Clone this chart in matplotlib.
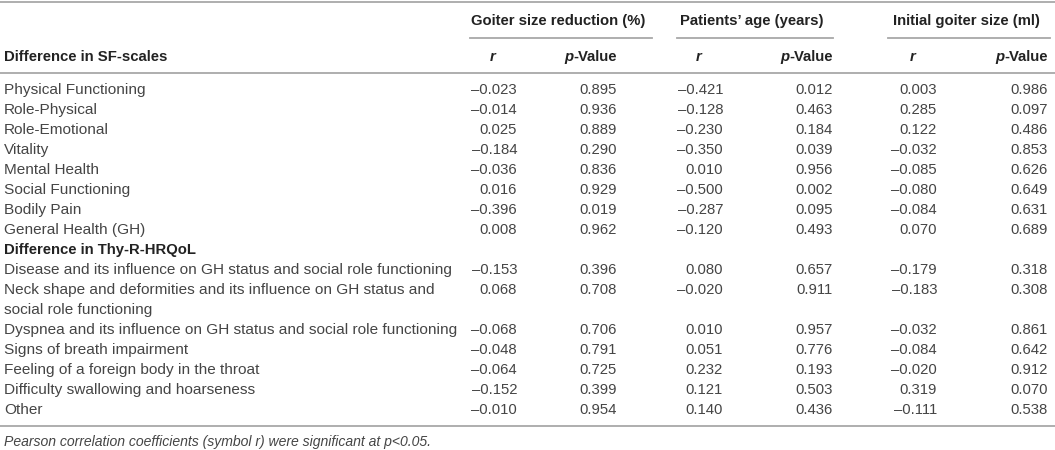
import matplotlib
matplotlib.use("Agg")
import matplotlib.pyplot as plt

# table content
groups = ["Goiter size reduction (%)", "Patients\u2019 age (years)", "Initial goiter size (ml)"]

sf_labels = ["Physical Functioning", "Role-Physical", "Role-Emotional", "Vitality",
             "Mental Health", "Social Functioning", "Bodily Pain", "General Health (GH)"]
sf_goiter_r = [-0.023, -0.014, 0.025, -0.184, -0.036, 0.016, -0.396, 0.008]
sf_goiter_p = [0.895, 0.936, 0.889, 0.290, 0.836, 0.929, 0.019, 0.962]
sf_age_r = [-0.421, -0.128, -0.230, -0.350, 0.010, -0.500, -0.287, -0.120]
sf_age_p = [0.012, 0.463, 0.184, 0.039, 0.956, 0.002, 0.095, 0.493]
sf_init_r = [0.003, 0.285, 0.122, -0.032, -0.085, -0.080, -0.084, 0.070]
sf_init_p = [0.986, 0.097, 0.486, 0.853, 0.626, 0.649, 0.631, 0.689]

thy_labels = ["Disease and its influence on GH status and social role functioning",
              "Neck shape and deformities and its influence on GH status and\nsocial role functioning",
              "Dyspnea and its influence on GH status and social role functioning",
              "Signs of breath impairment",
              "Feeling of a foreign body in the throat",
              "Difficulty swallowing and hoarseness",
              "Other"]
thy_goiter_r = [-0.153, 0.068, -0.068, -0.048, -0.064, -0.152, -0.010]
thy_goiter_p = [0.396, 0.708, 0.706, 0.791, 0.725, 0.399, 0.954]
thy_age_r = [0.080, -0.020, 0.010, 0.051, 0.232, 0.121, 0.140]
thy_age_p = [0.657, 0.911, 0.957, 0.776, 0.193, 0.503, 0.436]
thy_init_r = [-0.179, -0.183, -0.032, -0.084, -0.020, 0.319, -0.111]
thy_init_p = [0.318, 0.308, 0.861, 0.642, 0.912, 0.070, 0.538]

footnote = "Pearson correlation coefficients (symbol r) were significant at p<0.05."

W, H = 1055, 450
fig = plt.figure(figsize=(W / 100, H / 100), dpi=100)
ax = fig.add_axes([0, 0, 1, 1])
ax.set_xlim(0, W)
ax.set_ylim(H, 0)
ax.axis("off")

FONT = "Liberation Sans"
FS = 10.7      # numbers and headers
FS_LAB = 11.1  # row labels
TXT = "#454545"
HDR = "#222222"
LINE = "#a8a8a8"
BL = 5  # baseline offset from row centre


def fmt(v):
    s = "%.3f" % abs(v)
    return ("\u2013" + s) if v < 0 else s


def txt(x, y, s, ha="left", size=FS, **kw):
    return ax.text(x, y + BL, s, ha=ha, va="baseline", fontsize=size,
                   family=FONT, **kw)


# column positions (right edge of numbers)
r_right = [517, 723, 937]
p_right = [617, 833, 1048]
spans = [(470, 652), (677, 833), (888, 1050)]

# rules
ax.plot([0, W], [2, 2], color=LINE, lw=1.3)
ax.plot([0, W], [73, 73], color=LINE, lw=1.3)
ax.plot([0, W], [426, 426], color=LINE, lw=1.3)
for (a, b) in spans:
    ax.plot([a, b], [38, 38], color=LINE, lw=1.3)

# group headers
for g, (a, b) in zip(groups, spans):
    txt((a + b) / 2 - 3, 20, g, ha="center", fontweight="bold", color=HDR)

# sub headers
txt(4, 56, "Difference in SF-scales", fontweight="bold", color=HDR)
fig.canvas.draw()
rend = fig.canvas.get_renderer()
for rr, pr in zip(r_right, p_right):
    txt(rr - 24, 56, "r", ha="center", fontweight="bold", style="italic", color=HDR)
    t = txt(pr, 56, "-Value", ha="right", fontweight="bold", color=HDR)
    bb = t.get_window_extent(rend)
    x0 = ax.transData.inverted().transform((bb.x0, bb.y0))[0]
    txt(x0, 56, "p", ha="right", fontweight="bold", style="italic", color=HDR)

# body rows
y0, dy = 89, 20


def put_row(y, label, vals):
    for j, line in enumerate(label.split("\n")):
        txt(4, y + j * dy, line, size=FS_LAB, color=TXT)
    for k in range(3):
        txt(r_right[k], y, fmt(vals[2 * k]), ha="right", color=TXT)
        txt(p_right[k], y, fmt(vals[2 * k + 1]), ha="right", color=TXT)
    return label.count("\n") + 1


row = 0
for i, lab in enumerate(sf_labels):
    row += put_row(y0 + row * dy, lab, [sf_goiter_r[i], sf_goiter_p[i], sf_age_r[i],
                                        sf_age_p[i], sf_init_r[i], sf_init_p[i]])

txt(4, y0 + row * dy, "Difference in Thy-R-HRQoL", fontweight="bold", color=HDR)
row += 1

for i, lab in enumerate(thy_labels):
    row += put_row(y0 + row * dy, lab, [thy_goiter_r[i], thy_goiter_p[i], thy_age_r[i],
                                        thy_age_p[i], thy_init_r[i], thy_init_p[i]])

txt(4, 441, footnote, size=10.1, style="italic", color=TXT)

fig.savefig("out.png", dpi=100)
